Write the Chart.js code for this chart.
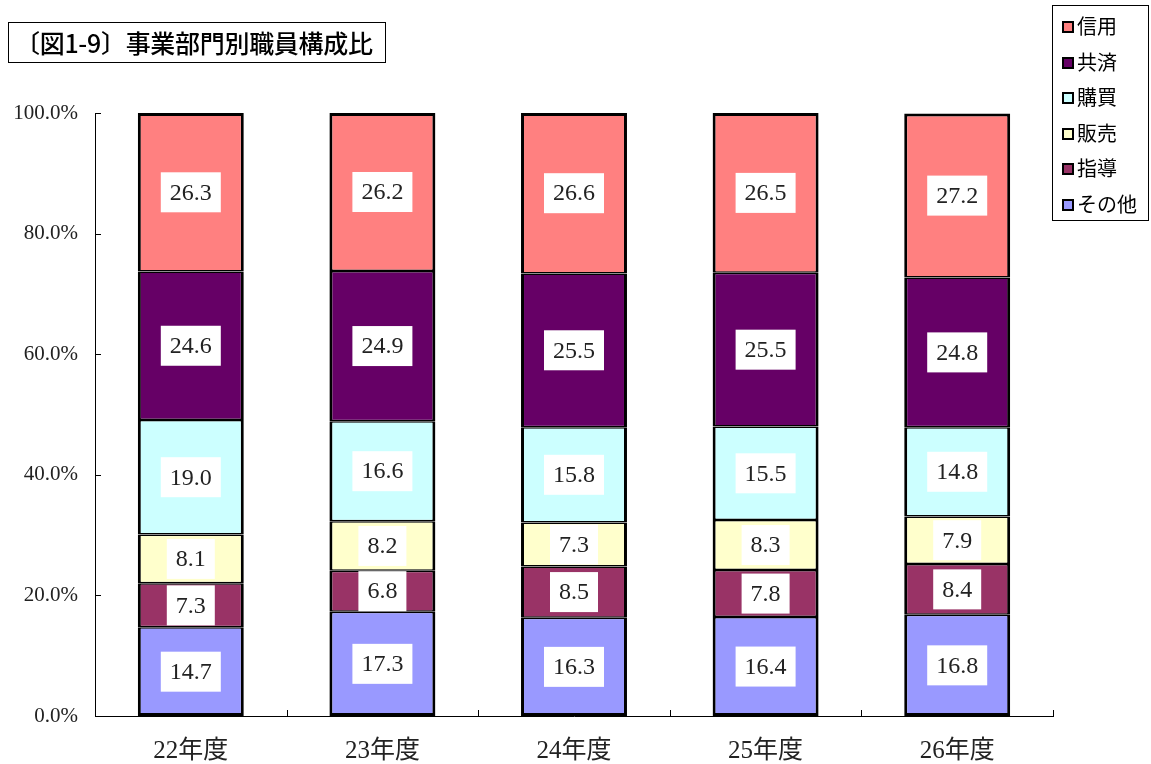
<!DOCTYPE html>
<html>
<head>
<meta charset="utf-8">
<script src="https://cdn.jsdelivr.net/npm/chart.js@4.4.0/dist/chart.umd.min.js"></script>
<style>
  body { margin: 0; background: #fff; }
  #wrap { position: relative; width: 1151px; height: 764px; }
  #title {
    position: absolute; left: 8px; top: 22px; width: 370px; height: 39px;
    border: 1px solid #000; font-family: "Noto Sans CJK JP", sans-serif;
    font-size: 25px; font-weight: 500; line-height: 39px; padding-left: 6px; box-sizing: content-box;
    white-space: nowrap; letter-spacing: -0.3px;
  }
  #legend {
    position: absolute; left: 1052px; top: 5px; width: 95px; height: 214px;
    border: 1px solid #000; font-family: "Noto Sans CJK JP", sans-serif; font-size: 20px;
  }
  .item { position: absolute; left: 9px; height: 30px; line-height: 30px; white-space: nowrap; }
  .box { display: inline-block; width: 8px; height: 8px; border: 2px solid #000; margin-right: 3px; vertical-align: 1px; }
</style>
</head>
<body>
<div id="wrap">
  <canvas id="chart" width="1151" height="764"></canvas>
  <div id="title">〔図1-9〕事業部門別職員構成比</div>
  <div id="legend"></div>
</div>
<script>
// data, bottom segment first
var years = ['22年度', '23年度', '24年度', '25年度', '26年度'];
var seriesNames = ['その他', '指導', '販売', '購買', '共済', '信用'];
var sonota = [14.7, 17.3, 16.3, 16.4, 16.8];
var shidou = [7.3, 6.8, 8.5, 7.8, 8.4];
var hanbai = [8.1, 8.2, 7.3, 8.3, 7.9];
var koubai = [19.0, 16.6, 15.8, 15.5, 14.8];
var kyousai = [24.6, 24.9, 25.5, 25.5, 24.8];
var shinyou = [26.3, 26.2, 26.6, 26.5, 27.2];
var seriesValues = [sonota, shidou, hanbai, koubai, kyousai, shinyou];
var colors = ['#9999FF', '#993366', '#FFFFCC', '#CCFFFF', '#660066', '#FF8080'];

var last = seriesNames.length - 1;
var datasets = seriesNames.map(function (name, i) {
    return {
        label: name,
        data: seriesValues[i],
        backgroundColor: colors[i],
        borderColor: '#000',
        // neighbouring segments share the divider, so each gives half of it
        borderWidth: { left: 3, right: 3, top: i == last ? 3 : 1.5, bottom: i == 0 ? 3 : 1.5 },
        borderSkipped: false,
        barPercentage: 0.553,
        categoryPercentage: 1.0
    };
});

// legend (top entry is the last series)
var legend = document.getElementById('legend');
for (var k = last; k >= 0; k--) {
    var row = document.createElement('div');
    row.className = 'item';
    row.style.top = (5 + (last - k) * 35.6) + 'px';
    row.innerHTML = '<span class="box" style="background:' + colors[k] + '"></span>' + seriesNames[k];
    legend.appendChild(row);
}

// white boxes with the values
var valueLabels = {
    id: 'valueLabels',
    afterDatasetsDraw: function (chart) {
        var ctx = chart.ctx;
        ctx.save();
        ctx.font = '24px "Liberation Serif", serif';
        ctx.textAlign = 'center';
        ctx.textBaseline = 'middle';
        chart.data.datasets.forEach(function (ds, i) {
            var meta = chart.getDatasetMeta(i);
            meta.data.forEach(function (bar, j) {
                var txt = ds.data[j].toFixed(1);
                var w = ctx.measureText(txt).width + 18;
                var h = 40;
                var cy = (bar.y + bar.base) / 2;
                ctx.fillStyle = '#fff';
                ctx.fillRect(bar.x - w / 2, cy - h / 2, w, h);
                ctx.fillStyle = '#222';
                ctx.fillText(txt, bar.x, cy + 1);
            });
        });
        ctx.restore();
    }
};

// small inside tick marks
var innerTicks = {
    id: 'innerTicks',
    afterDraw: function (chart) {
        var ctx = chart.ctx, a = chart.chartArea;
        var y = chart.scales.y;
        ctx.save();
        ctx.strokeStyle = '#000';
        ctx.lineWidth = 1;
        ctx.beginPath();
        y.ticks.forEach(function (t) {
            var py = Math.round(y.getPixelForValue(t.value)) + 0.5;
            ctx.moveTo(a.left, py);
            ctx.lineTo(a.left + 6, py);
        });
        var step = (a.right - a.left) / years.length;
        for (var i = 1; i <= years.length; i++) {
            var px = Math.round(a.left + i * step) + 0.5;
            ctx.moveTo(px, a.bottom);
            ctx.lineTo(px, a.bottom - 6);
        }
        ctx.stroke();
        ctx.restore();
    }
};

var ctx = document.getElementById('chart').getContext('2d');
var chart = new Chart(ctx, {
    type: 'bar',
    data: { labels: years, datasets: datasets },
    options: {
        responsive: false,
        animation: false,
        layout: { padding: { top: 113, right: 98, left: 0, bottom: 0 } },
        plugins: {
            legend: { display: false },
            title: { display: false },
            tooltip: { enabled: false }
        },
        scales: {
            x: {
                stacked: true,
                grid: { display: false, drawTicks: false },
                border: { display: true, color: '#000', width: 1 },
                ticks: { color: '#222', padding: 20, font: { family: '"Liberation Serif", "Noto Sans CJK JP", serif', size: 25 } },
                afterFit: function (s) { s.height = 48; }
            },
            y: {
                stacked: true,
                min: 0,
                max: 100,
                grid: { display: false, drawTicks: false },
                border: { display: true, color: '#000', width: 1 },
                ticks: {
                    stepSize: 20,
                    color: '#222',
                    padding: 17,
                    font: { family: '"Liberation Serif", serif', size: 21 },
                    callback: function (v) { return v.toFixed(1) + '%'; }
                },
                afterFit: function (s) { s.width = 95; }
            }
        }
    },
    plugins: [valueLabels, innerTicks]
});
</script>
</body>
</html>
